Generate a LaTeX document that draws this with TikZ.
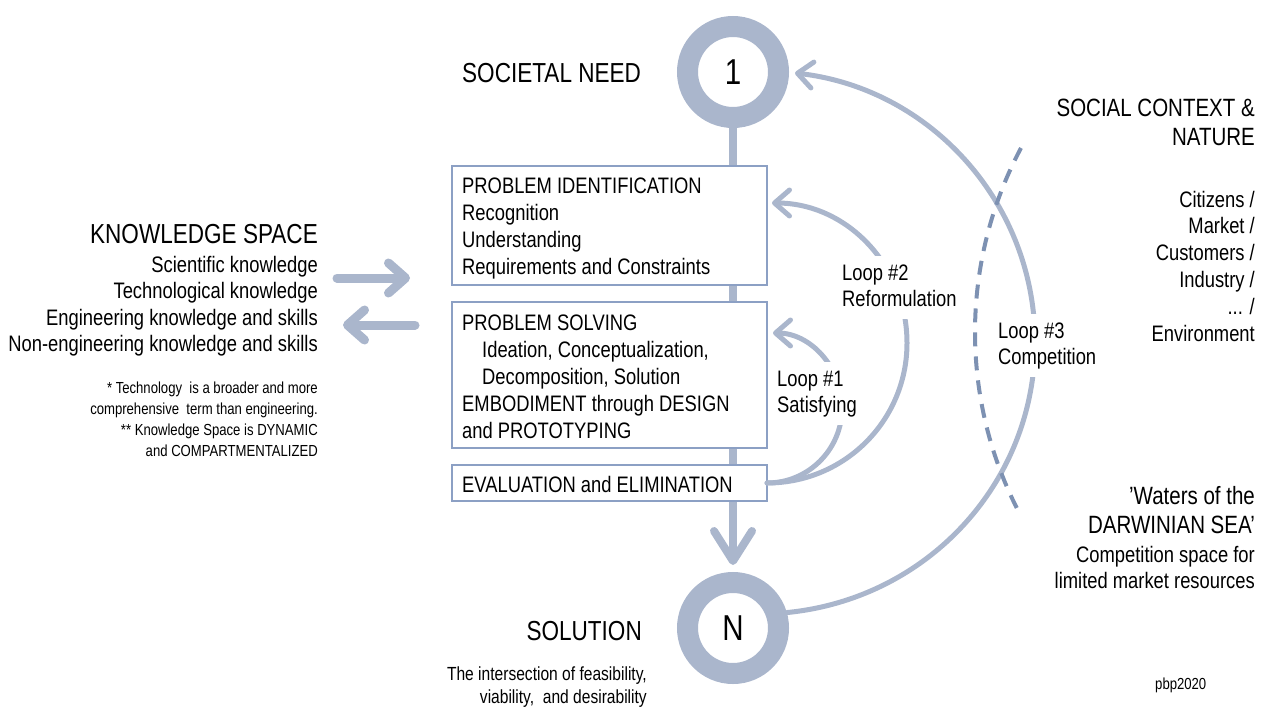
\documentclass[tikz,border=0pt]{standalone}
\usepackage{fontspec}
\setmainfont{Liberation Sans}[FakeStretch=0.82]
\usetikzlibrary{arrows.meta}
\definecolor{ringc}{RGB}{170,182,204}
\definecolor{boxc}{RGB}{140,160,196}
\definecolor{dashc}{RGB}{125,145,178}
\newcommand{\fsz}[2]{\fontsize{#1}{#2}\selectfont}
\begin{document}
\begin{tikzpicture}[x=1pt,y=-1pt,
  ring/.style={circle, draw=ringc, line width=21pt, minimum size=91pt, inner sep=0pt, fill=white, font=\fsz{36}{40}},
  pbox/.style={draw=boxc, line width=1.2pt, fill=white, anchor=north west, inner sep=0pt, outer sep=0pt, minimum width=315pt},
  txt/.style={inner sep=0pt, font=\fsz{22.4}{27}},
  head/.style={inner sep=0pt, font=\fsz{27.5}{30}},
  headr/.style={inner sep=0pt, font=\fsz{25}{29}},
  small/.style={inner sep=0pt, font=\fsz{16}{21.3}},
  looplab/.style={fill=white, inner xsep=4pt, inner ysep=5pt, font=\fsz{22.4}{26.5}, anchor=base west},
  flow/.style={draw=ringc, line width=5pt, line cap=round, -{Straight Barb[length=15pt,width=26pt,round]}},
  stem/.style={draw=ringc, line width=8pt, line cap=round, -{Straight Barb[length=30pt,width=38pt,round]}},
  karrow/.style={draw=ringc, line width=9pt, line cap=round, -{Straight Barb[length=17pt,width=30pt,round]}},
  dashline/.style={draw=dashc, line width=4pt, dash pattern=on 14pt off 10pt}
]
\useasboundingbox (0,0) rectangle (1269,707);

% circles
\node[ring] (one) at (733,72) {1};
\node[ring] (N) at (733,628) {N};

% stem
\coordinate (tipN) at (733,565);
\draw[stem] (one.south) -- (tipN);

% boxes
\node[pbox, minimum height=119pt] (b1) at (452,166) {};
\node[pbox, minimum height=146pt] (b2) at (452,302) {};
\node[pbox, minimum height=36pt] (b3) at (452,465) {};

\node[txt, anchor=base west] (t1) at (462,193) {\begin{tabular}[t]{@{}l@{}}PROBLEM IDENTIFICATION\\Recognition\\Understanding\\Requirements and Constraints\end{tabular}};
\node[txt, anchor=base west] (t2) at (462,330) {\begin{tabular}[t]{@{}l@{}}PROBLEM SOLVING\\\hspace*{20pt}Ideation, Conceptualization,\\\hspace*{20pt}Decomposition, Solution\\EMBODIMENT through DESIGN\\and PROTOTYPING\end{tabular}};
\node[txt, anchor=base west] (t3) at (462,492) {EVALUATION and ELIMINATION};

% headings centre
\node[head, anchor=base west] (sn) at (462,82) {SOCIETAL NEED};
\node[head, anchor=base east] (sol) at (642,640) {SOLUTION};
\node[inner sep=0pt, font=\fsz{19}{23}, anchor=base east] (solsub) at (647,680) {\begin{tabular}[t]{@{}r@{}}The intersection of feasibility,\\viability,~ and desirability\end{tabular}};

% knowledge space
\node[head, anchor=base east] (ks) at (318,243) {KNOWLEDGE SPACE};
\node[inner sep=0pt, font=\fsz{22.4}{26.5}, anchor=base east] (kslist) at (318,272) {\begin{tabular}[t]{@{}r@{}}Scientific knowledge\\Technological knowledge\\Engineering knowledge and skills\\Non-engineering knowledge and skills\end{tabular}};
\node[small, anchor=base east] (fn) at (318,393) {\begin{tabular}[t]{@{}r@{}}{*} Technology~ is a broader and more\\comprehensive~ term than engineering.\\{**} Knowledge Space is DYNAMIC\\and COMPARTMENTALIZED\end{tabular}};

\coordinate (ka) at (337,278);
\coordinate (kb) at (410,278);
\coordinate (kc) at (415,325);
\coordinate (kd) at (343,325);
\draw[karrow] (ka) -- (kb);
\draw[karrow] (kc) -- (kd);

% right column
\node[headr, anchor=base east] (sc) at (1255,116) {\begin{tabular}[t]{@{}r@{}}SOCIAL CONTEXT \&\\NATURE\end{tabular}};
\node[inner sep=0pt, font=\fsz{22.4}{26.8}, anchor=base east] (cit) at (1255,207) {\begin{tabular}[t]{@{}r@{}}Citizens /\\Market /\\Customers /\\Industry /\\... /\\Environment\end{tabular}};
\node[headr, anchor=base east] (ds) at (1255,504) {\begin{tabular}[t]{@{}r@{}}’Waters of the\\DARWINIAN SEA’\end{tabular}};
\node[inner sep=0pt, font=\fsz{22.4}{26}, anchor=base east] (cs) at (1255,562) {\begin{tabular}[t]{@{}r@{}}Competition space for\\limited market resources\end{tabular}};
\node[small, anchor=base west] (pbp) at (1155,689) {pbp2020};

% loops
\coordinate (t1a) at (773,333);
\coordinate (m1) at (842,408);
\coordinate (t2a) at (772,203);
\coordinate (m2) at (907,343);
\coordinate (t3a) at (795,73);
\coordinate (m3) at (1035,342);
\draw[flow] (b3.east) .. controls (808.4,483) and (842,449.4) .. (m1) .. controls (842,366.6) and (810,333) .. (t1a);
\draw[flow] (b3.east) .. controls (844.3,483) and (907,420.7) .. (m2) .. controls (907,265.7) and (847,203) .. (t2a);
\draw[flow] (N.16) .. controls (928.8,598.6) and (1035,481.4) .. (m3) .. controls (1035,204.4) and (931.7,88.8) .. (t3a);

% dashed boundary
\draw[dashline] (1021,148) .. controls (990.9,204.4) and (975,268) .. (975,332) .. controls (975,396) and (990.4,458.4) .. (1020.4,515);

% loop labels
\node[looplab] (l1) at (773,386) {\begin{tabular}[t]{@{}l@{}}Loop \#1\\Satisfying\end{tabular}};
\node[looplab] (l2) at (838,280) {\begin{tabular}[t]{@{}l@{}}Loop \#2\\Reformulation\end{tabular}};
\node[looplab] (l3) at (994,338) {\begin{tabular}[t]{@{}l@{}}Loop \#3\\Competition\end{tabular}};
\end{tikzpicture}
\end{document}
